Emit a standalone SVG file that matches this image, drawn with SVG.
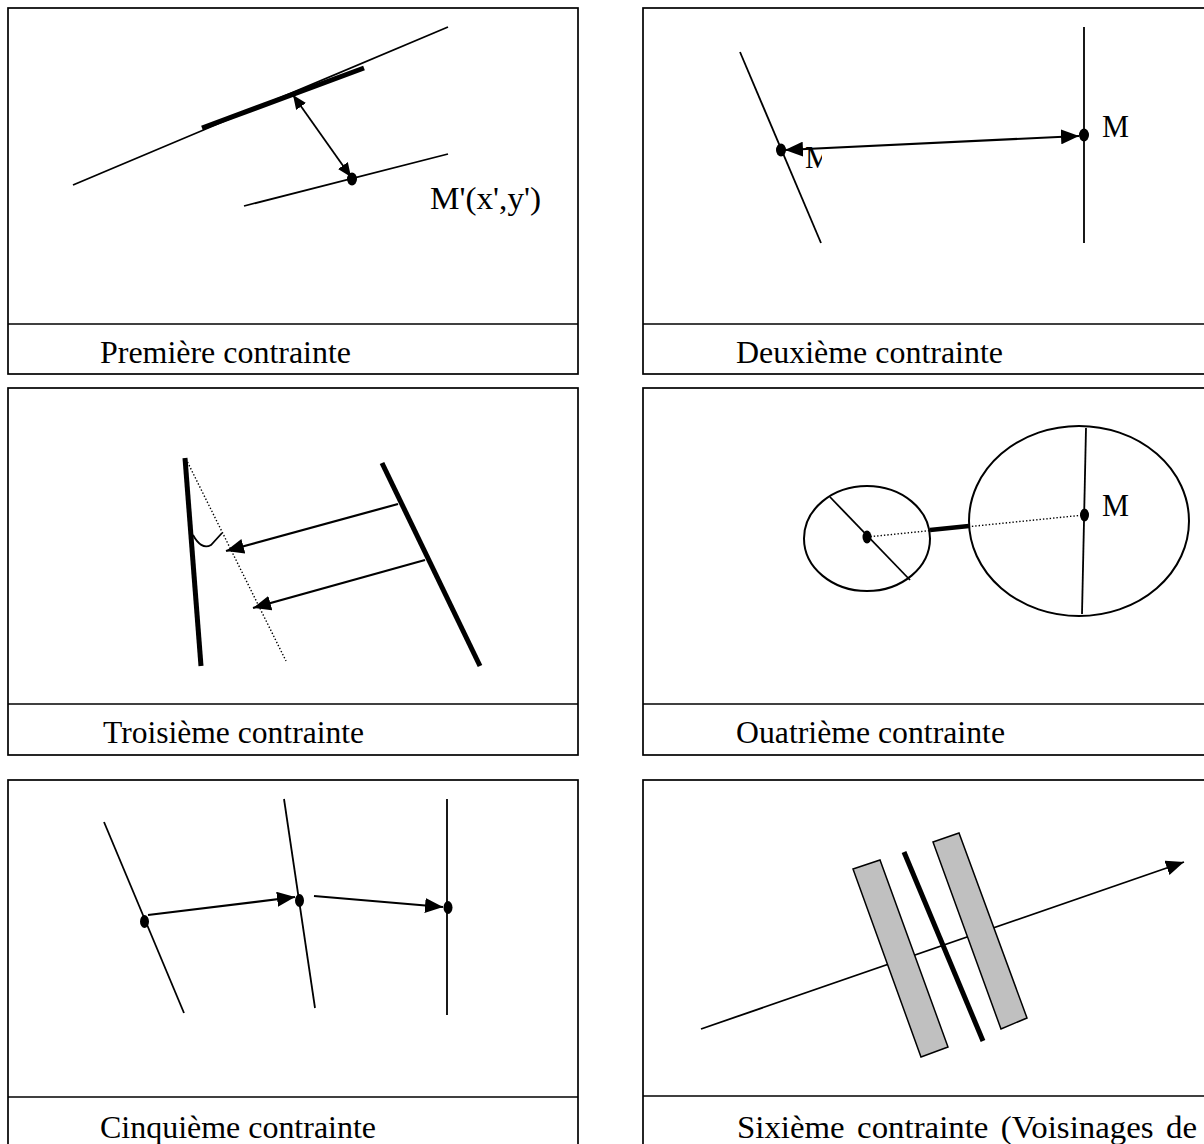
<svg xmlns="http://www.w3.org/2000/svg" width="1204" height="1144" viewBox="0 0 1204 1144">
<style>
.frame{fill:none;stroke:#000;stroke-width:1.7}
.ln{fill:none;stroke:#000;stroke-width:1.8}
.thick{fill:none;stroke:#000;stroke-width:5}
.dot{fill:#000}
.dotted{fill:none;stroke:#000;stroke-width:1.4;stroke-dasharray:1.4 2}
.arr{fill:none;stroke:#000;stroke-width:2.2}
.cap{font-family:"Liberation Serif","Times New Roman",serif;font-size:31px;fill:#000}
.gray{fill:#c0c0c0;stroke:#000;stroke-width:1.5}
.ell{fill:none;stroke:#000;stroke-width:2}
</style>
<defs>
<marker id="ah" markerUnits="userSpaceOnUse" markerWidth="18" markerHeight="15" refX="18" refY="7.5" orient="auto-start-reverse">
<path d="M0,0 L18,7.5 L0,15 z" fill="#000"/>
</marker>
<marker id="ahs" markerUnits="userSpaceOnUse" markerWidth="14" markerHeight="12" refX="14" refY="6" orient="auto-start-reverse">
<path d="M0,0 L14,6 L0,12 z" fill="#000"/>
</marker>
<clipPath id="clipN"><rect x="790" y="140" width="32" height="40"/></clipPath>
</defs>
<rect x="0" y="0" width="1204" height="1144" fill="#fff"/>

<g id="panel1">
<rect class="frame" x="8" y="8" width="570" height="366"/>
<line class="frame" x1="8" y1="324" x2="578" y2="324"/>
<line class="ln" x1="73" y1="185" x2="448" y2="27"/>
<line class="thick" x1="202" y1="128" x2="364" y2="68"/>
<line class="ln" x1="244" y1="206" x2="448" y2="154"/>
<ellipse class="dot" cx="352" cy="179" rx="5" ry="6.5"/>
<text class="cap" x="430" y="209" textLength="111" lengthAdjust="spacingAndGlyphs">M'(x',y')</text>
<text class="cap" x="100" y="363" textLength="251" lengthAdjust="spacingAndGlyphs">Première contrainte</text>
</g>

<g id="panel2">
<rect class="frame" x="643" y="8" width="580" height="366"/>
<line class="frame" x1="643" y1="324" x2="1204" y2="324"/>
<line class="ln" x1="740" y1="52" x2="821" y2="243"/>
<line class="ln" x1="1084" y1="27" x2="1084" y2="243"/>
<ellipse class="dot" cx="781" cy="150" rx="5" ry="6.5"/>
<ellipse class="dot" cx="1084" cy="135" rx="5" ry="6.5"/>
<text class="cap" x="1102" y="137" textLength="27" lengthAdjust="spacingAndGlyphs">M</text>
<text class="cap" x="805" y="168" textLength="27" lengthAdjust="spacingAndGlyphs" clip-path="url(#clipN)">M</text>
<text class="cap" x="736" y="363" textLength="267" lengthAdjust="spacingAndGlyphs">Deuxième contrainte</text>
</g>

<g id="panel3">
<rect class="frame" x="8" y="388" width="570" height="367"/>
<line class="frame" x1="8" y1="704" x2="578" y2="704"/>
<line class="thick" x1="185" y1="458" x2="201" y2="666"/>
<line class="thick" x1="382" y1="463" x2="480" y2="666"/>
<line class="dotted" x1="186" y1="459" x2="286" y2="661"/>
<path class="ln" d="M193,535 C198,544 204,549 211,545 L222,533"/>
<text class="cap" x="103" y="743" textLength="261" lengthAdjust="spacingAndGlyphs">Troisième contrainte</text>
</g>

<g id="panel4">
<rect class="frame" x="643" y="388" width="580" height="367"/>
<line class="frame" x1="643" y1="704" x2="1204" y2="704"/>
<ellipse class="ell" cx="867" cy="538.5" rx="63" ry="52.5"/>
<ellipse class="ell" cx="1079" cy="521" rx="110" ry="95"/>
<line class="ln" x1="830" y1="497" x2="910" y2="580"/>
<line class="ln" x1="1086" y1="428" x2="1082" y2="614"/>
<line class="dotted" x1="867" y1="537" x2="1084" y2="515"/>
<line fill="none" stroke="#000" stroke-width="4.5" x1="930" y1="530" x2="969" y2="526"/>
<ellipse class="dot" cx="867" cy="537" rx="4.5" ry="6.5"/>
<ellipse class="dot" cx="1084.5" cy="515" rx="4.5" ry="6.5"/>
<text class="cap" x="1102" y="516" textLength="27" lengthAdjust="spacingAndGlyphs">M</text>
<text class="cap" x="736" y="743" textLength="269" lengthAdjust="spacingAndGlyphs">Ouatrième contrainte</text>
</g>

<g id="panel5">
<rect class="frame" x="8" y="780" width="570" height="380"/>
<line class="frame" x1="8" y1="1097" x2="578" y2="1097"/>
<line class="ln" x1="104" y1="822" x2="184" y2="1013"/>
<line class="ln" x1="284" y1="799" x2="315" y2="1008"/>
<line class="ln" x1="447" y1="799" x2="447" y2="1015"/>
<ellipse class="dot" cx="144.5" cy="921.5" rx="4.5" ry="6.5"/>
<ellipse class="dot" cx="299.5" cy="900.5" rx="4.5" ry="6.5"/>
<ellipse class="dot" cx="448" cy="907.5" rx="4.5" ry="6.5"/>
<text class="cap" x="100" y="1138" textLength="276" lengthAdjust="spacingAndGlyphs">Cinquième contrainte</text>
</g>

<g id="panel6">
<rect class="frame" x="643" y="780" width="580" height="380"/>
<line class="frame" x1="643" y1="1096" x2="1204" y2="1096"/>
<line class="ln" x1="701" y1="1029" x2="1184" y2="862" marker-end="url(#ah)"/>
<polygon class="gray" points="853,869 880,860 948,1047 921,1057"/>
<polygon class="gray" points="933,842 959,833 1027,1018 1001,1029"/>
<line class="thick" x1="904" y1="852" x2="983" y2="1041"/>
<text class="cap" x="737" y="1138" textLength="460" lengthAdjust="spacingAndGlyphs" word-spacing="4">Sixième contrainte (Voisinages de</text>
</g>

<g id="connectors">
<line class="ln" x1="293" y1="95" x2="351" y2="177" marker-start="url(#ahs)" marker-end="url(#ahs)"/>
<line class="arr" x1="785" y1="150" x2="1079" y2="136" marker-start="url(#ah)" marker-end="url(#ah)"/>
<line class="arr" x1="398" y1="504" x2="226" y2="551" marker-end="url(#ah)"/>
<line class="arr" x1="425" y1="560" x2="253" y2="608" marker-end="url(#ah)"/>
<line class="arr" x1="148" y1="915" x2="295" y2="897" marker-end="url(#ah)"/>
<line class="arr" x1="314" y1="896" x2="443" y2="907" marker-end="url(#ah)"/>
</g>
</svg>
